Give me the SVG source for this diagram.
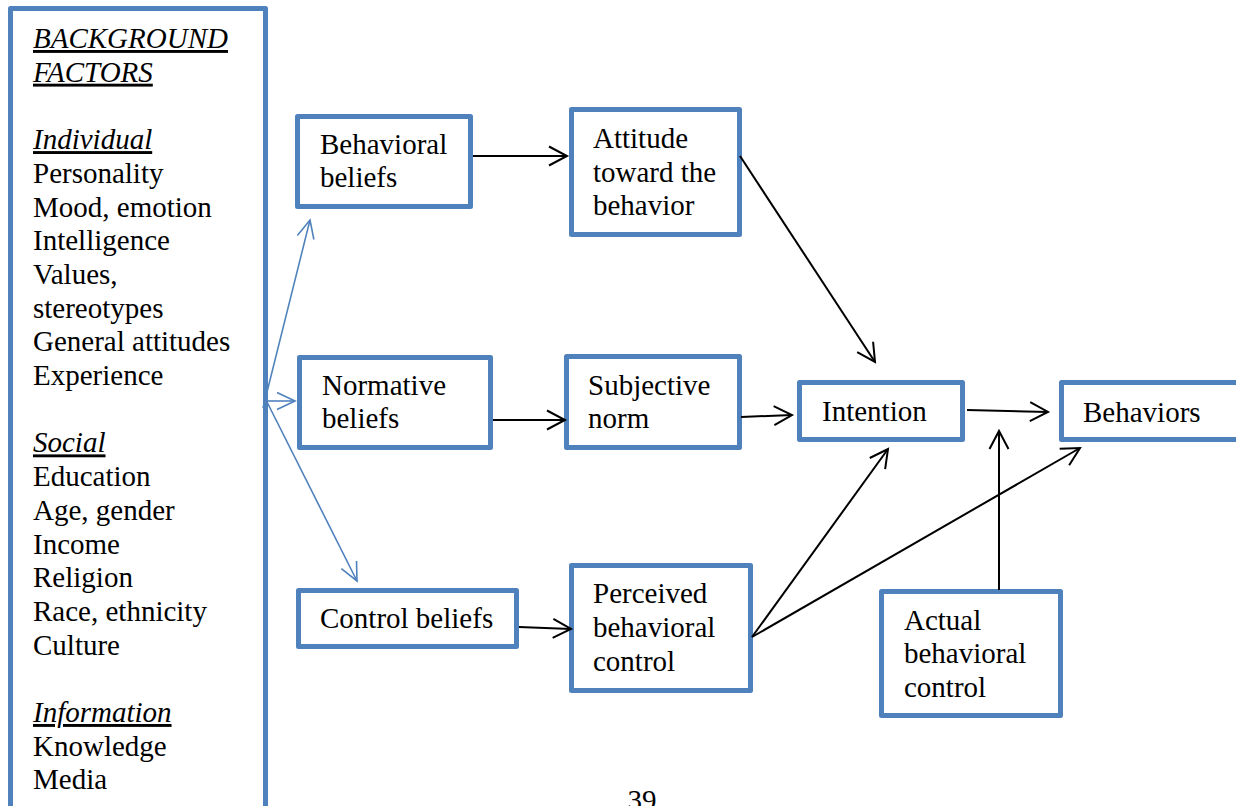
<svg xmlns="http://www.w3.org/2000/svg" width="1236" height="806" viewBox="0 0 1236 806">
  <style>
    .box { fill: #ffffff; stroke: #4F81BD; stroke-width: 5; stroke-linejoin: round; }
    .lbl { font-family: "Liberation Serif", "Times New Roman", serif; font-size: 29px; fill: #000000; }
    .hd { font-style: italic; text-decoration: underline; }
    .edge { fill: none; stroke: #000000; stroke-width: 2; }
    .edge-blue { fill: none; stroke: #4F81BD; stroke-width: 1.6; }
  </style>
  <defs>
    <marker id="arrow" markerUnits="userSpaceOnUse" markerWidth="24" markerHeight="24" viewBox="-21 -12 24 24" refX="0" refY="0" orient="auto" overflow="visible">
      <path d="M-18,-9.5 L0,0 L-18,9.5" fill="none" stroke="#000000" stroke-width="2"/>
    </marker>
    <marker id="arrow-blue" markerUnits="userSpaceOnUse" markerWidth="24" markerHeight="24" viewBox="-21 -12 24 24" refX="0" refY="0" orient="auto" overflow="visible">
      <path d="M-18,-8.5 L0,0 L-18,8.5" fill="none" stroke="#4F81BD" stroke-width="1.6"/>
    </marker>
  </defs>
  <rect width="1236" height="806" fill="#ffffff"/>

  <!-- background factors panel -->
  <g id="background-factors">
    <rect class="box" x="10.5" y="8.5" width="255" height="830"/>
    <text class="lbl" x="33">
      <tspan class="hd" x="33" y="48">BACKGROUND</tspan>
      <tspan class="hd" x="33" y="81.7">FACTORS</tspan>
      <tspan class="hd" x="33" y="149.1">Individual</tspan>
      <tspan x="33" y="182.8">Personality</tspan>
      <tspan x="33" y="216.5">Mood, emotion</tspan>
      <tspan x="33" y="250.2">Intelligence</tspan>
      <tspan x="33" y="283.9">Values,</tspan>
      <tspan x="33" y="317.6">stereotypes</tspan>
      <tspan x="33" y="351.3">General attitudes</tspan>
      <tspan x="33" y="385">Experience</tspan>
      <tspan class="hd" x="33" y="452.4">Social</tspan>
      <tspan x="33" y="486.1">Education</tspan>
      <tspan x="33" y="519.8">Age, gender</tspan>
      <tspan x="33" y="553.5">Income</tspan>
      <tspan x="33" y="587.2">Religion</tspan>
      <tspan x="33" y="620.9">Race, ethnicity</tspan>
      <tspan x="33" y="654.6">Culture</tspan>
      <tspan class="hd" x="33" y="722">Information</tspan>
      <tspan x="33" y="755.7">Knowledge</tspan>
      <tspan x="33" y="789.4">Media</tspan>
    </text>
  </g>

  <g id="behavioral-beliefs">
    <rect class="box" x="297.5" y="116.5" width="173" height="90"/>
    <text class="lbl"><tspan x="320" y="154">Behavioral</tspan><tspan x="320" y="187">beliefs</tspan></text>
  </g>

  <g id="attitude">
    <rect class="box" x="571.5" y="109.5" width="168" height="125"/>
    <text class="lbl"><tspan x="593" y="148">Attitude</tspan><tspan x="593" y="182">toward the</tspan><tspan x="593" y="215">behavior</tspan></text>
  </g>

  <g id="normative-beliefs">
    <rect class="box" x="299.5" y="357.5" width="191" height="90"/>
    <text class="lbl"><tspan x="322" y="395">Normative</tspan><tspan x="322" y="428">beliefs</tspan></text>
  </g>

  <g id="subjective-norm">
    <rect class="box" x="566.5" y="356.5" width="173" height="91"/>
    <text class="lbl"><tspan x="588" y="395">Subjective</tspan><tspan x="588" y="428">norm</tspan></text>
  </g>

  <g id="control-beliefs">
    <rect class="box" x="298.5" y="590.5" width="218" height="56"/>
    <text class="lbl" x="320" y="628">Control beliefs</text>
  </g>

  <g id="perceived-control">
    <rect class="box" x="571.5" y="565.5" width="179" height="125"/>
    <text class="lbl"><tspan x="593" y="603">Perceived</tspan><tspan x="593" y="637">behavioral</tspan><tspan x="593" y="671">control</tspan></text>
  </g>

  <g id="intention">
    <rect class="box" x="799.5" y="382.5" width="163" height="57"/>
    <text class="lbl" x="822" y="421">Intention</text>
  </g>

  <g id="behaviors">
    <rect class="box" x="1061.5" y="382.5" width="200" height="57"/>
    <text class="lbl" x="1083" y="422">Behaviors</text>
  </g>

  <g id="actual-control">
    <rect class="box" x="881.5" y="591.5" width="179" height="124"/>
    <text class="lbl"><tspan x="904" y="630">Actual</tspan><tspan x="904" y="663">behavioral</tspan><tspan x="904" y="697">control</tspan></text>
  </g>

  <!-- connectors -->
  <g id="connectors">
    <line class="edge-blue" x1="263" y1="408" x2="310" y2="220" marker-end="url(#arrow-blue)"/>
    <line class="edge-blue" x1="263" y1="401" x2="295" y2="401" marker-end="url(#arrow-blue)"/>
    <line class="edge-blue" x1="264" y1="396" x2="357" y2="581" marker-end="url(#arrow-blue)"/>

    <line class="edge" x1="473" y1="156" x2="567" y2="156" marker-end="url(#arrow)"/>
    <line class="edge" x1="493" y1="420" x2="565" y2="420" marker-end="url(#arrow)"/>
    <line class="edge" x1="519" y1="627" x2="571" y2="629" marker-end="url(#arrow)"/>

    <line class="edge" x1="740" y1="156" x2="875" y2="362" marker-end="url(#arrow)"/>
    <line class="edge" x1="741" y1="417" x2="792" y2="415" marker-end="url(#arrow)"/>
    <line class="edge" x1="967" y1="410" x2="1048" y2="412" marker-end="url(#arrow)"/>

    <line class="edge" x1="752" y1="637" x2="888" y2="449" marker-end="url(#arrow)"/>
    <line class="edge" x1="752" y1="637" x2="1080" y2="448" marker-end="url(#arrow)"/>
    <line class="edge" x1="999" y1="590" x2="999" y2="431" marker-end="url(#arrow)"/>
  </g>

  <text class="lbl" x="642" y="810" text-anchor="middle">39</text>
</svg>
